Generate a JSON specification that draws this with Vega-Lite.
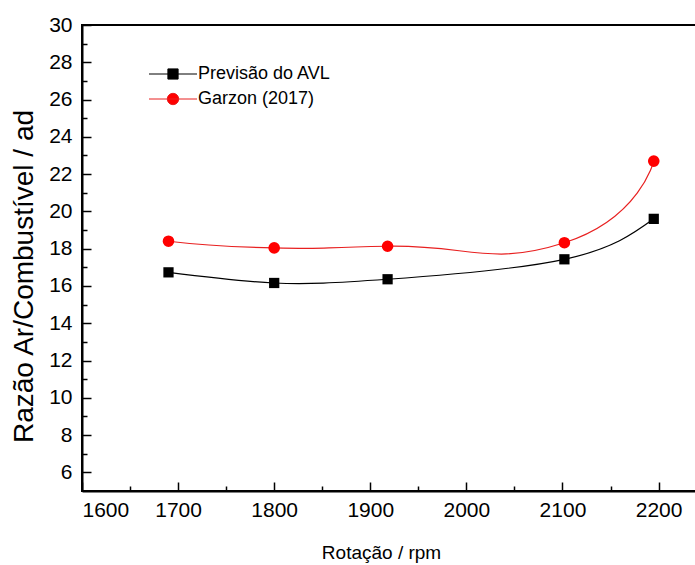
{
  "$schema": "https://vega.github.io/schema/vega-lite/v6.json",
  "width": 615,
  "height": 466,
  "autosize": "none",
  "padding": {"left": 82, "top": 25, "right": 0, "bottom": 74},
  "background": "white",
  "config": {
    "view": {"stroke": "#000", "strokeWidth": 2},
    "axis": {
      "domainColor": "#000",
      "domainWidth": 2,
      "tickColor": "#000",
      "tickWidth": 1.5,
      "labelFont": "Liberation Sans",
      "labelFontSize": 21,
      "labelColor": "#000",
      "titleColor": "#000",
      "titleFontWeight": "normal",
      "grid": false
    },
    "legend": {
      "orient": "none",
      "legendX": 82,
      "legendY": 40,
      "padding": 0,
      "labelFont": "Liberation Sans",
      "labelFontSize": 18,
      "labelColor": "#000",
      "labelOffset": 16,
      "rowPadding": 7,
      "symbolSize": 144,
      "symbolStrokeWidth": 1,
      "title": null
    }
  },
  "data": {
    "values": [
      {"rpm": 1690, "ratio": 16.73, "series": "Previsão do AVL"},
      {"rpm": 1800, "ratio": 16.16, "series": "Previsão do AVL"},
      {"rpm": 1918, "ratio": 16.36, "series": "Previsão do AVL"},
      {"rpm": 2102, "ratio": 17.43, "series": "Previsão do AVL"},
      {"rpm": 2195, "ratio": 19.6, "series": "Previsão do AVL"},
      {"rpm": 1690, "ratio": 18.4, "series": "Garzon (2017)"},
      {"rpm": 1800, "ratio": 18.04, "series": "Garzon (2017)"},
      {"rpm": 1918, "ratio": 18.13, "series": "Garzon (2017)"},
      {"rpm": 2102, "ratio": 18.32, "series": "Garzon (2017)"},
      {"rpm": 2195, "ratio": 22.7, "series": "Garzon (2017)"}
    ]
  },
  "resolve": {"axis": {"x": "independent", "y": "independent"}},
  "layer": [
    {
      "transform": [{"filter": "datum.series === 'Previsão do AVL'"}],
      "mark": {"type": "line", "interpolate": "natural", "strokeWidth": 1.2},
      "encoding": {
        "x": {
          "field": "rpm",
          "type": "quantitative",
          "scale": {"domain": [1600, 2240], "nice": false, "zero": false},
          "axis": {
            "orient": "bottom",
            "values": [1600, 1700, 1800, 1900, 2000, 2100, 2200],
            "format": "d",
            "tickSize": -9,
            "labelPadding": 17,
            "title": "Rotação / rpm",
            "titleFont": "Liberation Sans",
            "titleFontSize": 19,
            "titleX": 299,
            "titleY": 67,
            "titleBaseline": "alphabetic"
          }
        },
        "y": {
          "field": "ratio",
          "type": "quantitative",
          "scale": {"domain": [5, 30], "nice": false, "zero": false},
          "axis": {
            "orient": "left",
            "values": [6, 8, 10, 12, 14, 16, 18, 20, 22, 24, 26, 28, 30],
            "tickSize": -9,
            "labelPadding": 19,
            "title": "Razão Ar/Combustível / ad",
            "titleFont": "Liberation Sans",
            "titleFontSize": 28,
            "titleX": -50,
            "titleY": 251,
            "titleBaseline": "alphabetic"
          }
        },
        "color": {
          "field": "series",
          "type": "nominal",
          "scale": {"domain": ["Previsão do AVL", "Garzon (2017)"], "range": ["#000000", "#e82020"]},
          "legend": {
            "encode": {
              "symbols": {
                "update": {
                  "shape": {"signal": "datum.value === 'Previsão do AVL' ? 'M-4,0H4M-0.85,-0.85H0.85V0.85H-0.85Z' : 'M-4,0H4M0.95,0A0.95,0.95,0,1,1,-0.95,0A0.95,0.95,0,1,1,0.95,0Z'"},
                  "fill": {"signal": "datum.value === 'Previsão do AVL' ? '#000000' : '#ff0000'"},
                  "stroke": {"signal": "datum.value === 'Previsão do AVL' ? '#000000' : '#e82020'"},
                  "strokeWidth": {"value": 1},
                  "opacity": {"value": 1},
                  "fillOpacity": {"value": 1},
                  "strokeOpacity": {"value": 1}
                }
              }
            }
          }
        }
      }
    },
    {
      "transform": [{"filter": "datum.series === 'Garzon (2017)'"}],
      "mark": {"type": "line", "interpolate": "cardinal", "tension": -0.7, "strokeWidth": 1.2},
      "encoding": {
        "x": {"field": "rpm", "type": "quantitative", "axis": null},
        "y": {"field": "ratio", "type": "quantitative", "axis": null},
        "color": {"field": "series", "type": "nominal"}
      }
    },
    {
      "transform": [{"filter": "datum.series === 'Previsão do AVL'"}],
      "mark": {"type": "point", "shape": "square", "filled": true, "opacity": 1, "strokeWidth": 0, "fill": "#000000", "size": 105},
      "encoding": {
        "x": {
          "field": "rpm",
          "type": "quantitative",
          "axis": {
            "orient": "bottom",
            "values": [1650, 1750, 1850, 1950, 2050, 2150],
            "tickSize": -5,
            "labels": false,
            "domain": false,
            "title": null
          }
        },
        "y": {
          "field": "ratio",
          "type": "quantitative",
          "axis": {
            "orient": "left",
            "values": [7, 9, 11, 13, 15, 17, 19, 21, 23, 25, 27, 29],
            "tickSize": -5,
            "labels": false,
            "domain": false,
            "title": null
          }
        }
      }
    },
    {
      "transform": [{"filter": "datum.series === 'Garzon (2017)'"}],
      "mark": {"type": "point", "shape": "circle", "filled": true, "opacity": 1, "strokeWidth": 0, "fill": "#ff0000", "size": 135},
      "encoding": {
        "x": {"field": "rpm", "type": "quantitative", "axis": null},
        "y": {"field": "ratio", "type": "quantitative", "axis": null}
      }
    }
  ]
}
